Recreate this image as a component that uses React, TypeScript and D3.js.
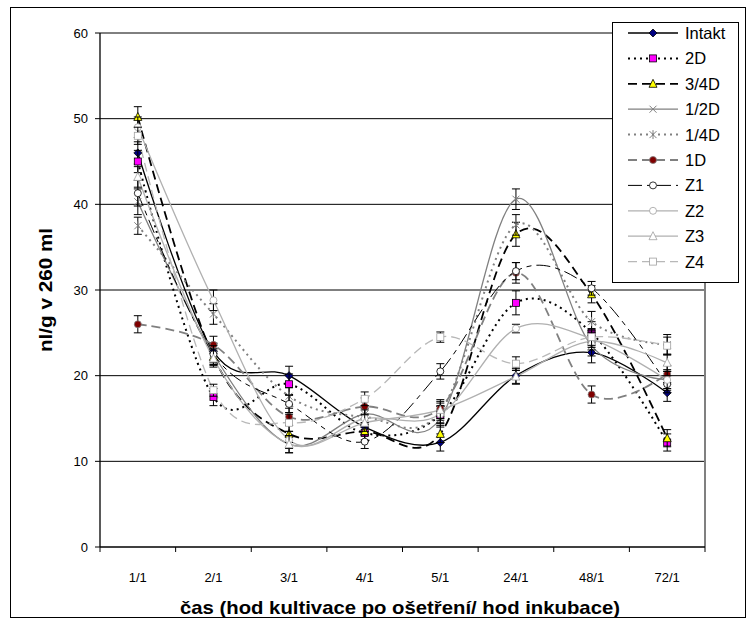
import * as d3 from 'd3';

const categories = ['1/1', '2/1', '3/1', '4/1', '5/1', '24/1', '48/1', '72/1'];
const yTicks = [0, 10, 20, 30, 40, 50, 60];

const intakt = [46, 22.8, 20, 14, 12.2, 20, 22.7, 18];
const d2 = [45, 17.5, 19, 13.3, 15.4, 28.5, 25, 12.2];
const d34 = [50.2, 22.2, 13.2, 13.5, 13.2, 36.5, 29.5, 12.7];
const d12 = [40.3, 22.5, 12, 15.5, 15, 40.6, 23.5, 19.5];
const d14 = [37.5, 27.2, 17.6, 15.2, 15.8, 37.6, 26.3, 23.6];
const d1 = [26, 23.6, 15.2, 16.4, 16.2, 32, 17.8, 20.2];
const z1 = [41.3, 22.5, 16.7, 12.3, 20.5, 32.2, 30.2, 19];
const z2 = [49, 28.8, 12.5, 15, 15.5, 25.5, 24.3, 19.5];
const z3 = [43.2, 22, 12, 14.5, 16, 19.9, 24, 21.5];
const z4 = [48, 18.3, 14.5, 17.3, 24.5, 21.4, 24.5, 23.5];

const errIntakt = [1.3, 1, 1.1, 1, 1, 0.9, 1.2, 1];
const errD2 = [1.3, 1, 1.2, 1, 1, 1.4, 1.3, 1];
const errD34 = [1.2, 1, 1, 1, 1, 1.4, 1, 1];
const errD12 = [1.5, 1.2, 1, 1, 1, 1.2, 1.2, 1.2];
const errD14 = [1, 1.2, 1, 1, 1, 1.2, 1.2, 1.2];
const errD1 = [1, 1, 1, 1, 1, 1.2, 1, 1];
const errZ1 = [1.5, 1, 1, 0.8, 0.9, 1, 0.8, 1];
const errZ2 = [1.2, 1.2, 1, 1, 1, 0.5, 1, 1];
const errZ3 = [1.2, 1, 1, 1, 1, 0.9, 1, 1];
const errZ4 = [1, 0.7, 1, 0.8, 0.6, 0.8, 1, 1];

type Marker = 'diamond' | 'square' | 'triangle' | 'x' | 'star' | 'circle';

interface Series {
  name: string;
  values: number[];
  err: number[];
  stroke: string;
  width: number;
  dash: string;
  marker: Marker;
  mFill: string;
  mStroke: string;
}

const series: Series[] = [
  { name: 'Intakt', values: intakt, err: errIntakt, stroke: '#000', width: 1.3, dash: '', marker: 'diamond', mFill: '#000080', mStroke: '#000' },
  { name: '2D', values: d2, err: errD2, stroke: '#000', width: 2, dash: '2,4', marker: 'square', mFill: '#ff00ff', mStroke: '#000' },
  { name: '3/4D', values: d34, err: errD34, stroke: '#000', width: 1.8, dash: '9,5', marker: 'triangle', mFill: '#ffff00', mStroke: '#000' },
  { name: '1/2D', values: d12, err: errD12, stroke: '#808080', width: 1.3, dash: '', marker: 'x', mFill: 'none', mStroke: '#808080' },
  { name: '1/4D', values: d14, err: errD14, stroke: '#808080', width: 2, dash: '2,4', marker: 'star', mFill: 'none', mStroke: '#808080' },
  { name: '1D', values: d1, err: errD1, stroke: '#808080', width: 1.8, dash: '9,5', marker: 'circle', mFill: '#800000', mStroke: '#808080' },
  { name: 'Z1', values: z1, err: errZ1, stroke: '#000', width: 1, dash: '14,5,5,5', marker: 'circle', mFill: '#fff', mStroke: '#000' },
  { name: 'Z2', values: z2, err: errZ2, stroke: '#b0b0b0', width: 1.3, dash: '', marker: 'circle', mFill: '#fff', mStroke: '#a0a0a0' },
  { name: 'Z3', values: z3, err: errZ3, stroke: '#b0b0b0', width: 1.3, dash: '', marker: 'triangle', mFill: '#fff', mStroke: '#a0a0a0' },
  { name: 'Z4', values: z4, err: errZ4, stroke: '#b8b8b8', width: 1.3, dash: '9,5', marker: 'square', mFill: '#fff', mStroke: '#a0a0a0' },
];

const font = '"Liberation Sans", Arial, sans-serif';

function MarkerShape({ type, cx, cy, fill, stroke }: { type: Marker; cx: number; cy: number; fill: string; stroke: string }) {
  const r = 3.5;
  switch (type) {
    case 'diamond':
      return <path d={`M${cx},${cy - r - 0.5}L${cx + r + 0.5},${cy}L${cx},${cy + r + 0.5}L${cx - r - 0.5},${cy}Z`} fill={fill} stroke={stroke} strokeWidth={0.8} />;
    case 'square':
      return <rect x={cx - r} y={cy - r} width={r * 2} height={r * 2} fill={fill} stroke={stroke} strokeWidth={0.8} />;
    case 'triangle':
      return <path d={`M${cx},${cy - r - 1}L${cx + r + 0.5},${cy + r}L${cx - r - 0.5},${cy + r}Z`} fill={fill} stroke={stroke} strokeWidth={0.8} />;
    case 'x':
      return <path d={`M${cx - r},${cy - r}L${cx + r},${cy + r}M${cx - r},${cy + r}L${cx + r},${cy - r}`} stroke={stroke} strokeWidth={1} />;
    case 'star':
      return <path d={`M${cx - r},${cy - r}L${cx + r},${cy + r}M${cx - r},${cy + r}L${cx + r},${cy - r}M${cx},${cy - r - 1}L${cx},${cy + r + 1}`} stroke={stroke} strokeWidth={1} />;
    case 'circle':
      return <circle cx={cx} cy={cy} r={r} fill={fill} stroke={stroke} strokeWidth={0.8} />;
  }
}

export default function App() {
  const W = 750;
  const H = 624;
  const left = 100;
  const right = 705;
  const top = 33;
  const bottom = 547;

  const x = d3.scaleBand<string>().domain(categories).range([left, right]);
  const y = d3.scaleLinear().domain([0, 60]).range([bottom, top]);
  const cx = (c: string) => (x(c) ?? 0) + x.bandwidth() / 2;

  const line = d3
    .line<number>()
    .x((_, i) => cx(categories[i]))
    .y((d) => y(d))
    .curve(d3.curveCardinal.tension(0));

  const legendX = 612;
  const legendY = 22;
  const legendStep = 25.4;

  return (
    <svg width={W} height={H} style={{ position: 'absolute', left: 0, top: 0, background: '#fff' }}>
      <rect x={10.5} y={7.5} width={735} height={610} fill="#fff" stroke="#000" strokeWidth={1} />

      {/* gridlines */}
      {yTicks.filter((t) => t > 0).map((t) => (
        <line key={t} x1={left} x2={right} y1={y(t)} y2={y(t)} stroke="#000" strokeWidth={1} />
      ))}
      <line x1={right} x2={right} y1={top} y2={bottom} stroke="#808080" strokeWidth={2} />

      {/* y axis */}
      <line x1={left} x2={left} y1={top} y2={bottom} stroke="#000" strokeWidth={1.3} />
      {yTicks.map((t) => (
        <g key={t}>
          <line x1={left - 5} x2={left} y1={y(t)} y2={y(t)} stroke="#000" />
          <text x={left - 12} y={y(t)} dy="0.35em" textAnchor="end" fontFamily={font} fontSize={13}>
            {t}
          </text>
        </g>
      ))}

      {/* x axis */}
      <line x1={left} x2={right} y1={bottom} y2={bottom} stroke="#000" strokeWidth={1.3} />
      {categories.map((c) => (
        <line key={'t' + c} x1={x(c)} x2={x(c)} y1={bottom} y2={bottom + 5} stroke="#000" />
      ))}
      <line x1={right} x2={right} y1={bottom} y2={bottom + 5} stroke="#000" />
      {categories.map((c) => (
        <text key={'l' + c} x={cx(c)} y={582} textAnchor="middle" fontFamily={font} fontSize={13}>
          {c}
        </text>
      ))}

      <text x={400} y={614} textAnchor="middle" fontFamily={font} fontSize={19} fontWeight="bold" textLength={440} lengthAdjust="spacingAndGlyphs">
        čas (hod kultivace po ošetření/ hod inkubace)
      </text>
      <text
        transform={`translate(52,${y(30)}) rotate(-90)`}
        textAnchor="middle"
        fontFamily={font}
        fontSize={19}
        fontWeight="bold"
        textLength={124}
        lengthAdjust="spacingAndGlyphs"
      >
        nl/g v 260 ml
      </text>

      {/* series lines */}
      {series.map((s) => (
        <path
          key={'p' + s.name}
          d={line(s.values) ?? ''}
          fill="none"
          stroke={s.stroke}
          strokeWidth={s.width}
          strokeDasharray={s.dash}
        />
      ))}

      {/* error bars and markers */}
      {series.map((s) => (
        <g key={'m' + s.name}>
          {s.values.map((v, i) => {
            const px = cx(categories[i]);
            const hi = y(v + s.err[i]);
            const lo = y(v - s.err[i]);
            return (
              <g key={i}>
                <line x1={px} x2={px} y1={hi} y2={lo} stroke="#000" strokeWidth={1} />
                <line x1={px - 4} x2={px + 4} y1={hi} y2={hi} stroke="#000" strokeWidth={1} />
                <line x1={px - 4} x2={px + 4} y1={lo} y2={lo} stroke="#000" strokeWidth={1} />
                <MarkerShape type={s.marker} cx={px} cy={y(v)} fill={s.mFill} stroke={s.mStroke} />
              </g>
            );
          })}
        </g>
      ))}

      {/* legend */}
      <rect x={legendX + 0.5} y={legendY + 0.5} width={126} height={260} fill="#fff" stroke="#000" strokeWidth={1} />
      {series.map((s, i) => {
        const ly = legendY + 11 + i * legendStep;
        return (
          <g key={'lg' + s.name}>
            <line x1={628} x2={678} y1={ly} y2={ly} stroke={s.stroke} strokeWidth={s.width} strokeDasharray={s.dash} />
            <MarkerShape type={s.marker} cx={653} cy={ly} fill={s.mFill} stroke={s.mStroke} />
            <text x={685} y={ly} dy="0.36em" fontFamily={font} fontSize={16.5}>
              {s.name}
            </text>
          </g>
        );
      })}
    </svg>
  );
}
